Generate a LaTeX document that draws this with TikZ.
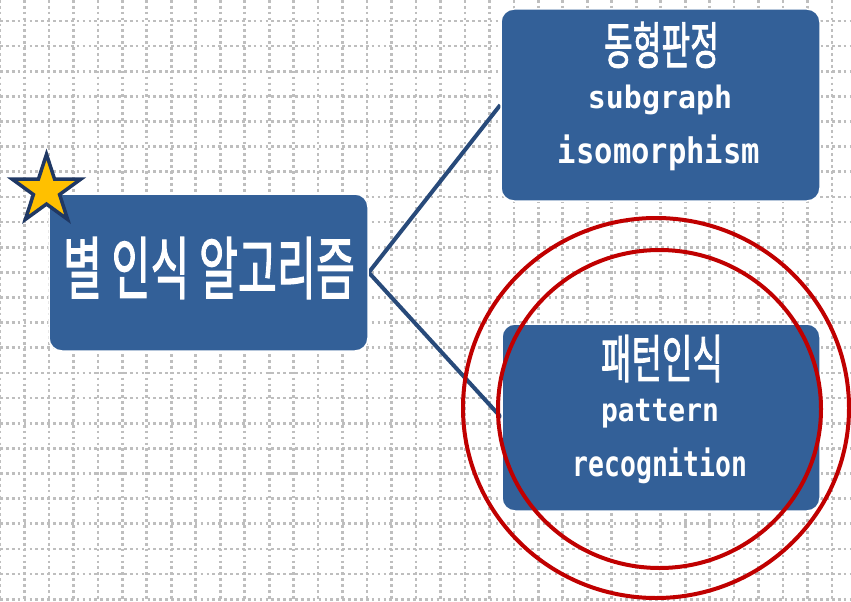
\documentclass[tikz,border=0pt]{standalone}
\usepackage{fontspec}
\usepackage{graphicx}
\setmainfont{Noto Sans CJK KR}
\newfontfamily\kor[FakeBold=2]{Noto Sans CJK KR}
\newfontfamily\latf{DejaVu Sans Mono}
\usetikzlibrary{shapes.geometric,backgrounds}
\definecolor{boxblue}{RGB}{51,96,152}
\definecolor{linkblue}{RGB}{40,74,122}
\definecolor{starnavy}{RGB}{31,56,100}
\definecolor{stargold}{RGB}{255,192,0}
\definecolor{ringred}{RGB}{192,0,0}
\definecolor{gridgray}{RGB}{190,190,190}
\tikzset{
 box/.style={rectangle, rounded corners=13pt, fill=boxblue, draw=white, line width=1.5pt, inner sep=0pt},
 lbl/.style={text=white, inner sep=0pt, anchor=center},
 link/.style={draw=linkblue, line width=4pt},
 ring/.style={draw=ringred, line width=4pt},
 gridline/.style={draw=gridgray, line width=2.7pt, dash pattern=on 2.7pt off 3.2pt},
}
\newcommand{\fitk}[3]{\resizebox*{#1pt}{#2pt}{\kor #3}}
\newcommand{\fitl}[3]{\resizebox*{#1pt}{#2pt}{\latf\bfseries #3}}
\begin{document}
\begin{tikzpicture}[x=1pt,y=-1pt]
\useasboundingbox (0,0) rectangle (851,602);
% boxes
\node[box, minimum width=319pt, minimum height=157pt] (L) at (208.5,272.5) {};
\node[box, minimum width=319pt, minimum height=192pt] (T) at (660.5,105) {};
\node[box, minimum width=318pt, minimum height=187pt] (B) at (661,417.5) {};
\begin{scope}[on background layer]
\fill[white] (0,0) rectangle (851,602);
\foreach \i in {0,...,34} \draw[gridline] (24.47*\i,0) -- (24.47*\i,602);
\foreach \j in {0,...,23} \draw[gridline] (0,21+25.14*\j) -- (851,21+25.14*\j);
\draw[link] (L.east) -- (T.west);
\draw[link] (L.east) -- (B.west);
\end{scope}
% texts
\node[lbl] (Lt) at (209,268) {\fitk{292}{62}{별 인식 알고리즘}};
\node[lbl] (Tt1) at (661.5,45) {\fitk{115}{46}{동형판정}};
\node[lbl] (Tt2) at (660,100) {\fitl{144}{30}{subgraph}};
\node[lbl] (Tt3) at (659,153) {\fitl{202}{36}{isomorphism}};
\node[lbl] (Bt1) at (662,358.5) {\fitk{122}{47}{패턴인식}};
\node[lbl] (Bt2) at (660,414) {\fitl{118}{29}{pattern}};
\node[lbl] (Bt3) at (660,466) {\fitl{175}{36}{recognition}};
% star
\node[star, star points=5, star point ratio=2.618, minimum size=72pt, inner sep=0pt,
      fill=stargold, draw=starnavy, line width=3.5pt] (S) at (46.5,190.3) {};
% rings
\draw[ring] (656,408) ellipse [x radius=193pt, y radius=190pt];
\draw[ring] (659.5,409) ellipse [x radius=161.5pt, y radius=159pt];
\end{tikzpicture}
\end{document}
